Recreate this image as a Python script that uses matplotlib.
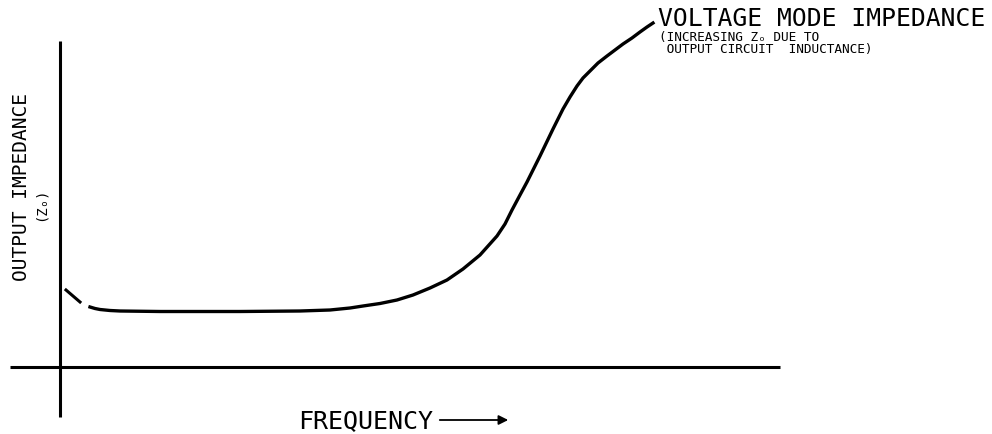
import matplotlib
matplotlib.use("Agg")
import matplotlib.pyplot as plt

# curve (frequency, impedance), arbitrary units
# origin at the axis crossing
low_f = [6, 20]
low_z = [77, 65]

freq = [30, 35, 40, 50, 60, 100, 180, 240, 270, 290, 303, 320, 337, 353,
        370, 387, 403, 420, 437, 445, 452, 460, 467, 480, 493, 503, 510,
        517, 523, 530, 538, 547, 555, 563, 572, 580, 587, 593]
imped = [60, 58.5, 57.5, 56.5, 56, 55.5, 55.5, 56, 57, 59, 61, 63.5, 67, 72,
         79, 87, 98, 112, 131, 143, 157, 172, 185, 211, 238, 258, 270,
         281, 289, 296, 304, 311, 317, 323, 329, 335, 340, 344]

title = "VOLTAGE MODE IMPEDANCE"
note1 = "(INCREASING Zₒ DUE TO"
note2 = " OUTPUT CIRCUIT  INDUCTANCE)"
ylab = "OUTPUT IMPEDANCE"
ylab2 = "(Zₒ)"
xlab = "FREQUENCY"

plt.rcParams["font.family"] = ["DejaVu Sans Mono", "DejaVu Sans"]

fig = plt.figure(figsize=(9.92, 4.35), dpi=100)
ax = fig.add_axes([0, 0, 1, 1])
ax.set_xlim(-60, 932)
ax.set_ylim(-67, 368)
ax.axis("off")

# axes drawn by hand, like the sketch
ax.plot([-50, 720], [0, 0], color="black", lw=2.2, solid_capstyle="butt")
ax.plot([0, 0], [-50, 326], color="black", lw=2.2, solid_capstyle="butt")

ax.plot(low_f, low_z, color="black", lw=2.2)
ax.plot(freq, imped, color="black", lw=2.4, solid_joinstyle="round")

ax.text(598, 349.5, title, fontsize=17.8, ha="left", va="center")
ax.text(599, 331, note1, fontsize=9.2, ha="left", va="center")
ax.text(599, 318.5, note2, fontsize=9.2, ha="left", va="center")

ax.text(-38, 181, ylab, fontsize=14, rotation=90, ha="center", va="center")
ax.text(-19, 164, ylab2, fontsize=10, rotation=90, ha="center", va="center")

ax.text(238, -53, xlab, fontsize=18, ha="left", va="center")
ax.annotate("", xy=(451, -53), xytext=(377, -53),
            arrowprops=dict(arrowstyle="-|>", color="black", lw=1.3,
                            mutation_scale=14))

fig.savefig("out.png", dpi=100)
